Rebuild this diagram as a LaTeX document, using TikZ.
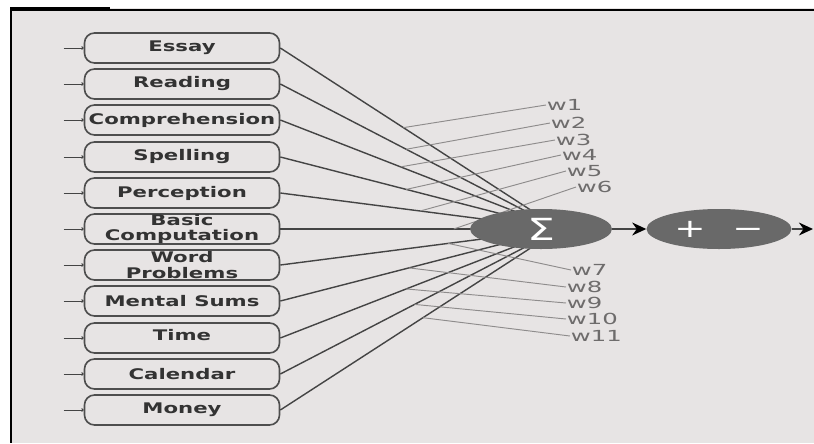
\documentclass[tikz,border=0pt]{standalone}
\usepackage{fontspec}
\usetikzlibrary{arrows.meta,shapes.geometric}
\newfontfamily\diagfont{DejaVu Sans}[FakeStretch=1.45]
\newfontfamily\weightfont{DejaVu Sans}[FakeStretch=1.6]
\definecolor{paper}{HTML}{E7E4E4}
\definecolor{boxedge}{HTML}{4E4E4E}
\definecolor{boxtext}{HTML}{333333}
\definecolor{linkc}{HTML}{444444}
\definecolor{wlinec}{HTML}{8E8C8C}
\definecolor{wtext}{HTML}{6E6C6C}
\definecolor{unitfill}{HTML}{696969}

\begin{document}
\begin{tikzpicture}[x=0.03cm,y=-0.03cm,
  field/.style={rectangle,rounded corners=0.3cm,draw=boxedge,line width=1.4pt,fill=paper,
    minimum width=5.85cm,minimum height=0.9cm,inner sep=0pt,align=center,text=boxtext,
    font={\diagfont\bfseries\fontsize{12.5}{13.5}\selectfont}},
  stub/.style={draw=linkc,line width=0.8pt,-{To[length=2pt,width=3pt]}},
  link/.style={draw=linkc,line width=1.2pt},
  wline/.style={draw=wlinec,line width=0.8pt},
  wlabel/.style={anchor=west,inner sep=0.5pt,text=wtext,font={\weightfont\fontsize{13}{13}\selectfont}},
  unit/.style={ellipse,fill=unitfill,minimum height=1.2cm,inner sep=0pt,text=white,
    font={\diagfont\fontsize{22}{22}\selectfont}},
  flow/.style={draw=linkc,line width=1.5pt,-{Stealth[length=12pt,width=11pt,color=black]}}]

% page and frame
\useasboundingbox (0,0) rectangle (814,443);
\fill[paper] (10,8) rectangle (814,443);
\draw[black,line width=1.7pt] (10,10) -- (814,10);
\draw[black,line width=3.4pt] (10,9) -- (110,9);
\draw[black,line width=1.7pt] (11,8) -- (11,443);

% input fields
\node[field] (essay)    at (182,48)  {Essay};
\node[field] (reading)  at (182,84)  {Reading};
\node[field] (compr)    at (182,120) {Comprehension};
\node[field] (spelling) at (182,157) {Spelling};
\node[field] (percep)   at (182,193) {Perception};
\node[field] (basic)    at (182,229) {Basic\\Computation};
\node[field] (word)     at (182,265) {Word\\Problems};
\node[field] (mental)   at (182,301) {Mental Sums};
\node[field] (time)     at (182,338) {\raisebox{6pt}{Time}};
\node[field] (calendar) at (182,374) {Calendar};
\node[field] (money)    at (182,410) {Money};

\foreach \f in {essay,reading,compr,spelling,percep,basic,word,mental,time,calendar,money}
  \draw[stub] ([xshift=-0.6cm]\f.west) -- (\f.west);

% connectors into the sum
\coordinate (hub) at (560,229);
\draw[link] (essay.east)    -- coordinate[pos=0.44] (c1)  (hub);
\draw[link] (reading.east)  -- coordinate[pos=0.45] (c2)  (hub);
\draw[link] (compr.east)    -- coordinate[pos=0.43] (c3)  (hub);
\draw[link] (spelling.east) -- coordinate[pos=0.45] (c4)  (hub);
\draw[link] (percep.east)   -- coordinate[pos=0.50] (c5)  (hub);
\draw[link] (basic.east)    -- coordinate[pos=0.62] (c6)  (hub);
\draw[link] (word.east)     -- coordinate[pos=0.60] (c7)  (hub);
\draw[link] (mental.east)   -- coordinate[pos=0.46] (c8)  (hub);
\draw[link] (time.east)     -- coordinate[pos=0.45] (c9)  (hub);
\draw[link] (calendar.east) -- coordinate[pos=0.48] (c10) (hub);
\draw[link] (money.east)    -- coordinate[pos=0.51] (c11) (hub);

% weights
\node[wlabel] (w1)  at (546,105) {w1};
\node[wlabel] (w2)  at (550,123) {w2};
\node[wlabel] (w3)  at (555,140) {w3};
\node[wlabel] (w4)  at (561,155) {w4};
\node[wlabel] (w5)  at (566,171) {w5};
\node[wlabel] (w6)  at (576,187) {w6};
\node[wlabel] (w7)  at (571,270) {w7};
\node[wlabel] (w8)  at (566,287) {w8};
\node[wlabel] (w9)  at (566,303) {w9};
\node[wlabel] (w10) at (566,319) {w10};
\node[wlabel] (w11) at (570,336) {w11};
\foreach \i in {1,...,11}
  \draw[wline] (c\i) -- (w\i.west);

% sum and sign units
\node[unit,minimum width=4.26cm] (sigma) at (541,229) {{\fontsize{26}{26}\selectfont Σ}};
\node[unit,minimum width=4.35cm] (pm)    at (719,229) {+\hspace{0.8cm}−};
\coordinate (outpt) at (813,229);
\draw[flow] (sigma) -- (pm);
\draw[flow] (pm) -- (outpt);

\end{tikzpicture}
\end{document}
